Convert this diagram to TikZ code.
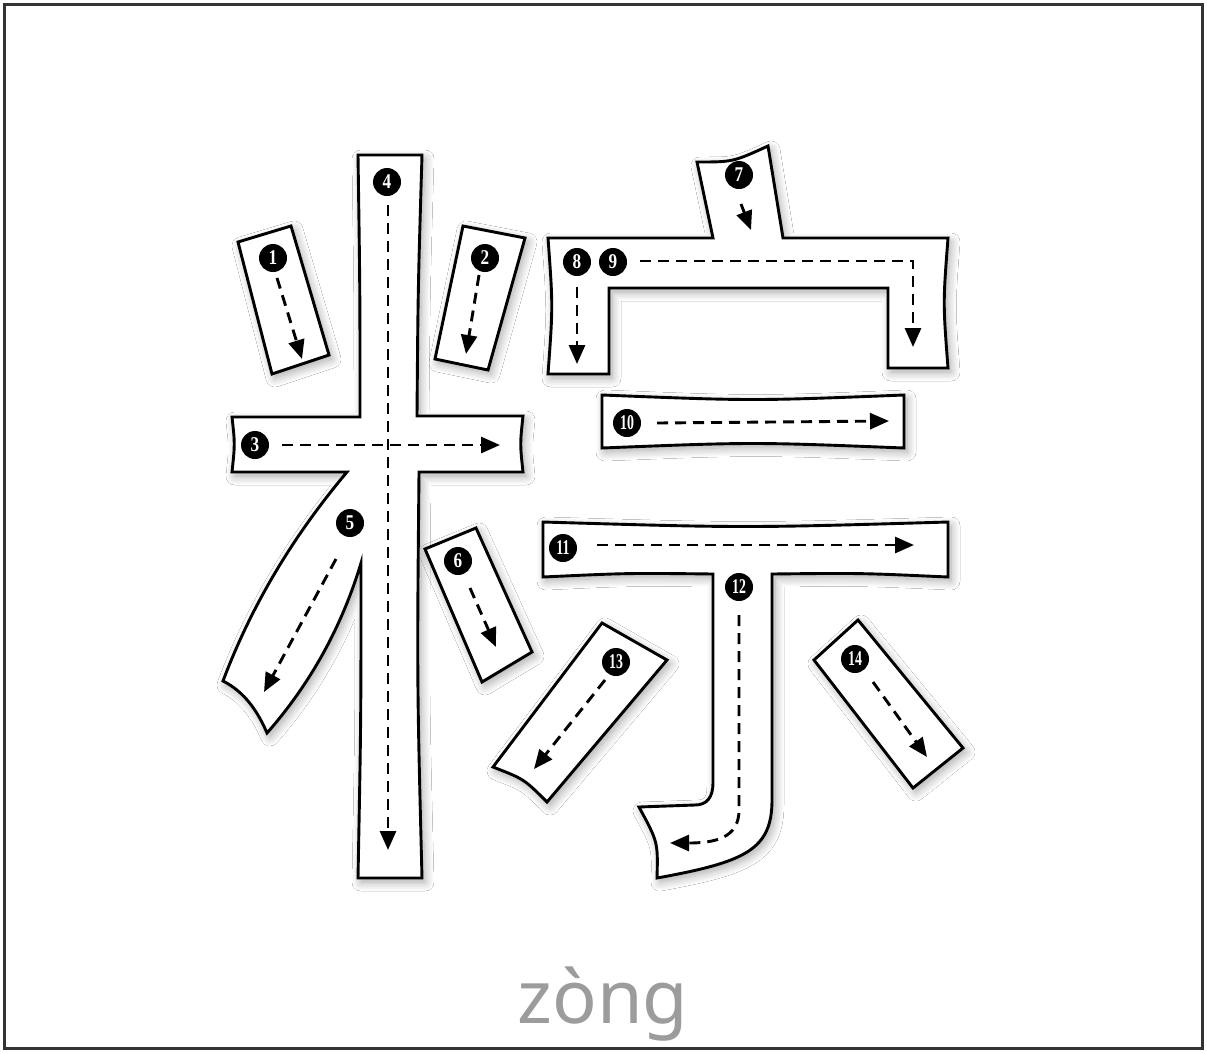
\documentclass[tikz,border=0pt]{standalone}
\usepackage{fontspec}
\usepackage{graphicx}
\setmainfont{Liberation Serif}
\newfontfamily\pyfont{Noto Sans}
\newfontfamily\numfont{Liberation Serif}
\usetikzlibrary{arrows.meta,shadows.blur}
\definecolor{pygray}{HTML}{9C9C9C}
\definecolor{framegray}{HTML}{333333}
\tikzset{
  strokebox/.style={draw=black, line width=2.9pt, fill=white, line join=miter,
    blur shadow={shadow xshift=3pt, shadow yshift=-4pt, shadow blur radius=9pt,
      shadow blur steps=14, shadow opacity=35}},
  guide/.style={draw=black, line width=2.9pt, dash pattern=on 11pt off 7pt,
    -{Triangle[length=19pt,width=16pt]}},
  numdot/.style={circle, fill=black, minimum size=28pt, inner sep=0pt, text=white,
    font=\numfont\bfseries\fontsize{21}{21}\selectfont},
}
\newcommand{\oned}[1]{\scalebox{0.82}[1]{#1}}
\newcommand{\twod}[1]{\scalebox{0.66}[1]{#1}}
\begin{document}
\begin{tikzpicture}[x=1pt,y=-1pt]
\useasboundingbox (0,0) rectangle (1207,1053);
\fill[white] (0,0) rectangle (1207,1053);
\draw[line width=2.5pt, draw=framegray] (4.5,4.5) rectangle (1202.5,1048.5);

% stroke shapes
% 3,4,5
\path[strokebox] (358,155) -- (422,155) .. controls (418,290) .. (417,416)
  -- (523,416) .. controls (520,444) .. (523,472) -- (419,472)
  .. controls (417,680) .. (422,878) -- (358,878) .. controls (361,720) .. (361,563)
  .. controls (342,626) and (311,683) .. (267,733) .. controls (258,712) and (245,692) .. (223,681)
  .. controls (252,604) and (294,535) .. (347,472) -- (232,472)
  .. controls (235,444) .. (232,417) -- (360,417) .. controls (360,290) .. (358,155) -- cycle;
% 7,8,9
\path[strokebox] (548,238) -- (713,238) -- (697,162) .. controls (733,162) .. (768,146)
  -- (783,238) -- (948,238) .. controls (943,303) .. (948,368) -- (888,368)
  -- (888,288) -- (609,288) -- (609,374) -- (548,374) .. controls (553,306) .. (548,238) -- cycle;
% 10
\path[strokebox] (602,395) .. controls (753,401) .. (904,395) -- (904,448)
  .. controls (753,442) .. (602,448) -- cycle;
% 11,12
\path[strokebox] (543,522) .. controls (745,528) .. (948,522) -- (948,577)
  .. controls (860,573) .. (772,574) -- (772,800)
  .. controls (772,850) and (745,862) .. (657,878) .. controls (658,842) .. (639,807)
  -- (695,805) .. controls (707,805) and (713,797) .. (713,783) -- (713,574)
  .. controls (628,573) .. (543,577) -- cycle;
% 13
\path[strokebox] (602,623) -- (667,660) -- (547,802) .. controls (524,779) .. (493,767) -- cycle;
% 14
\path[strokebox] (858,620) -- (963,748) -- (913,788) -- (814,660) -- cycle;
% 1
\path[strokebox] (238,242) -- (291,226) -- (329,355) -- (272,374) -- cycle;
% 2
\path[strokebox] (463,226) -- (525,238) -- (488,370) -- (435,359) -- cycle;
% 6
\path[strokebox] (425,549) -- (476,528) -- (532,652) -- (482,682) -- cycle;

% guide arrows
\coordinate (a1s) at (277,278); \coordinate (a1e) at (302,359);
\coordinate (a2s) at (479,275); \coordinate (a2e) at (466,354);
\coordinate (a3s) at (282,445); \coordinate (a3e) at (500,445);
\coordinate (a4s) at (388,205); \coordinate (a4e) at (388,850);
\coordinate (a5s) at (336,559); \coordinate (a5e) at (264,692);
\coordinate (a6s) at (470,588); \coordinate (a6e) at (496,647);
\coordinate (a7s) at (741,204); \coordinate (a7e) at (751,230);
\coordinate (a8s) at (577,287); \coordinate (a8e) at (577,364);
\coordinate (a9s) at (640,261); \coordinate (a9c) at (913,261); \coordinate (a9e) at (913,347);
\coordinate (a10s) at (657,423); \coordinate (a10e) at (889,421);
\coordinate (a11s) at (597,545); \coordinate (a11e) at (914,545);
\coordinate (a12s) at (739,615); \coordinate (a12c) at (739,810); \coordinate (a12e) at (670,843);
\coordinate (a13s) at (605,680); \coordinate (a13e) at (534,769);
\coordinate (a14s) at (873,682); \coordinate (a14e) at (927,757);

\draw[guide] (a1s) -- (a1e);
\draw[guide] (a2s) -- (a2e);
\draw[guide] (a3s) -- (a3e);
\draw[guide] (a4s) -- (a4e);
\draw[guide] (a5s) -- (a5e);
\draw[guide] (a6s) -- (a6e);
\draw[guide] (a7s) -- (a7e);
\draw[guide] (a8s) -- (a8e);
\draw[guide] (a9s) -- (a9c) -- (a9e);
\draw[guide] (a10s) -- (a10e);
\draw[guide] (a11s) -- (a11e);
\draw[guide] (a12s) -- (a12c) .. controls (739,838) and (715,843) .. (a12e);
\draw[guide] (a13s) -- (a13e);
\draw[guide] (a14s) -- (a14e);

% numbers
\node[numdot] (n1) at (273,258) {\oned{1}};
\node[numdot] (n2) at (485,258) {\oned{2}};
\node[numdot] (n3) at (255,445) {\oned{3}};
\node[numdot] (n4) at (387,182) {\oned{4}};
\node[numdot] (n5) at (350,523) {\oned{5}};
\node[numdot] (n6) at (458,561) {\oned{6}};
\node[numdot] (n7) at (739,175) {\oned{7}};
\node[numdot] (n8) at (577,262) {\oned{8}};
\node[numdot] (n9) at (613,262) {\oned{9}};
\node[numdot] (n10) at (627,423) {\twod{10}};
\node[numdot] (n11) at (563,548) {\twod{11}};
\node[numdot] (n12) at (739,587) {\twod{12}};
\node[numdot] (n13) at (616,662) {\twod{13}};
\node[numdot] (n14) at (855,659) {\twod{14}};

% pinyin
\node[font=\pyfont\fontsize{74}{74}\selectfont, text=pygray, anchor=base, inner sep=0pt] (py) at (603,1023) {zòng};
\end{tikzpicture}
\end{document}
